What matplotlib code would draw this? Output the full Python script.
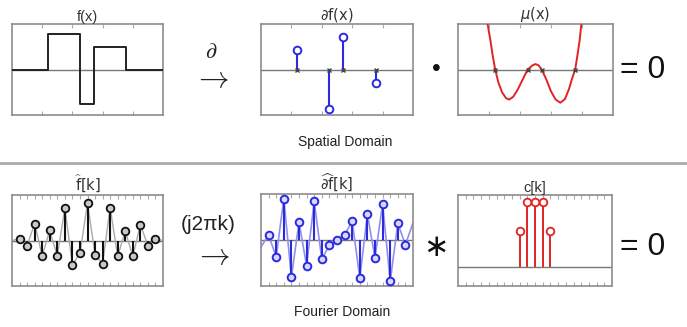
import matplotlib.pyplot as plt
import numpy as np

plt.rcParams['font.family'] = ['Liberation Sans', 'DejaVu Sans']
plt.rcParams['mathtext.fontset'] = 'dejavusans'

# spatial domain
f_edges = [0, 1.2, 2.25, 2.7, 3.78, 5]
f_levels = [0, 0.77, -0.75, 0.5, 0]

df_x = [1.2, 2.25, 2.7, 3.78]
df_y = [0.43, -0.86, 0.72, -0.29]

mu_x = [0.93, 1.05, 1.12, 1.2, 1.3, 1.42, 1.55, 1.65, 1.78, 1.92, 2.05, 2.18, 2.25,
        2.4, 2.5, 2.6, 2.7, 2.85, 3.0, 3.15, 3.3, 3.45, 3.58, 3.68, 3.78, 3.85,
        3.92, 3.98, 4.02]
mu_y = [1.1, 0.62, 0.3, 0.0, -0.28, -0.5, -0.63, -0.66, -0.6, -0.45, -0.27, -0.09, 0.0,
        0.09, 0.12, 0.09, 0.0, -0.22, -0.48, -0.66, -0.73, -0.65, -0.43, -0.2, 0.0, 0.3,
        0.62, 1.0, 1.15]

# fourier domain
k = np.arange(-9, 10)
fhat = [0.04, -0.11, 0.37, -0.34, 0.22, -0.34, 0.71, -0.53, -0.28, 0.82,
        -0.31, -0.51, 0.72, -0.35, 0.21, -0.35, 0.35, -0.11, 0.03]
dfhat = [0.11, -0.37, 0.90, -0.81, 0.39, -0.56, 0.84, -0.42, -0.11, 0.0,
         0.11, 0.41, -0.83, 0.56, -0.39, 0.79, -0.90, 0.36, -0.10]
edge_k = [-10, 10]
fhat_edge = [0.0, 0.0]
dfhat_edge = [-0.15, 0.37]

ck = [-2, -1, 0, 1, 2]
c = [0.56, 1.0, 1.0, 1.0, 0.56]

GRAY = '#8c8c8c'
BLUE = '#2b2bdc'
RED = '#e02424'

fig = plt.figure(figsize=(6.87, 3.27), dpi=100)
W, H = 687, 327


def make_ax(x0, x1, y0, y1):
    return fig.add_axes([x0 / W, 1 - y1 / H, (x1 - x0) / W, (y1 - y0) / H])


def style(ax, ticks, xlim, ylim, title):
    ax.set_xlim(*xlim)
    ax.set_ylim(*ylim)
    for s in ax.spines.values():
        s.set_color(GRAY)
        s.set_linewidth(1.2)
    ax.set_xticks(ticks)
    ax.set_yticks([])
    ax.tick_params(axis='x', direction='in', top=True, bottom=True, length=3,
                   color='#aaaaaa', labelbottom=False)
    ax.axhline(0, color='#777777', lw=1.0, zorder=1)
    ax.set_title(title, fontsize=10.5, color='#333333', pad=2)


# top row
ax1 = make_ax(12, 163, 24, 115)
ax1.step(f_edges, f_levels + [f_levels[-1]], where='post', color='#222222', lw=1.4, zorder=3)
style(ax1, [1, 2, 3, 4], (0, 5), (-1, 1), 'f(x)')

ax2 = make_ax(261, 413, 24, 115)
ax2.vlines(df_x, 0, df_y, color=BLUE, lw=1.5, zorder=3)
ax2.plot(df_x, df_y, 'o', ms=5.5, mfc='white', mec=BLUE, mew=1.4, zorder=4)
ax2.plot(df_x, [0] * len(df_x), 'x', ms=3, color='#444444', mew=1, zorder=4)
style(ax2, [1, 2, 3, 4], (0, 5), (-1, 1), r'$\partial\mathrm{f(x)}$')

ax3 = make_ax(458, 613, 24, 115)
ax3.plot(mu_x, mu_y, color=RED, lw=1.4, zorder=3)
ax3.plot(df_x, [0] * len(df_x), 'x', ms=3, color='#444444', mew=1, zorder=4)
style(ax3, [1, 2, 3, 4], (0, 5), (-1, 1), r'$\mu\mathrm{(x)}$')

# bottom row
ax4 = make_ax(12, 163, 195, 286)
ax4.plot(edge_k[:1] + list(k) + edge_k[1:], fhat_edge[:1] + fhat + fhat_edge[1:],
         color='#aaaaaa', lw=1.0, zorder=2)
ax4.vlines(k, 0, fhat, color='#111111', lw=1.5, zorder=3)
ax4.plot(k, fhat, 'o', ms=5.5, mfc='#c8c8c8', mec='#111111', mew=1.3, zorder=4)
style(ax4, np.arange(-9, 10), (-10, 10), (-1, 1), r'$\widehat{\mathrm{f}}\mathrm{[k]}$')

ax5 = make_ax(261, 413, 194, 286)
ax5.plot(edge_k[:1] + list(k) + edge_k[1:], dfhat_edge[:1] + dfhat + dfhat_edge[1:],
         color='#8f8ff0', lw=1.2, zorder=2)
ax5.vlines(k, 0, dfhat, color=BLUE, lw=1.5, zorder=3)
ax5.plot(k, dfhat, 'o', ms=5.5, mfc='#d8d8ff', mec=BLUE, mew=1.4, zorder=4)
style(ax5, np.arange(-9, 10), (-10, 10), (-1, 1), r'$\widehat{\partial\mathrm{f}}\mathrm{[k]}$')

ax6 = make_ax(458, 612, 195, 286)
ax6.vlines(ck, 0, c, color=RED, lw=1.4, zorder=3)
ax6.plot(ck, c, 'o', ms=5.5, mfc='white', mec=RED, mew=1.3, zorder=4)
style(ax6, np.arange(-9, 10), (-10, 10), (-0.29, 1.11), 'c[k]')


def ftext(x, y, s, **kw):
    fig.text(x / W, 1 - y / H, s, ha='center', va='center', **kw)


ftext(211, 53, r'$\partial$', fontsize=16, math_fontfamily='cm', color='#222222')
ftext(211, 79, r'$\rightarrow$', fontsize=22, math_fontfamily='cm', color='#222222')
ftext(436, 69, '•', fontsize=18, color='#111111')
ftext(643, 70, '= 0', fontsize=23, color='#111111')
ftext(345, 142, 'Spatial Domain', fontsize=10, color='#222222')

ftext(208, 224, '(j2πk)', fontsize=15, color='#222222')
ftext(212, 256, r'$\rightarrow$', fontsize=22, math_fontfamily='cm', color='#222222')
ftext(436, 248, '∗', fontsize=22, color='#111111')
ftext(643, 247, '= 0', fontsize=23, color='#111111')
ftext(342, 312, 'Fourier Domain', fontsize=10, color='#222222')

fig.add_artist(plt.Line2D([0, 1], [1 - 163 / H] * 2, transform=fig.transFigure,
                          color='#aaaaaa', lw=2))

fig.savefig('out.png', dpi=100)
